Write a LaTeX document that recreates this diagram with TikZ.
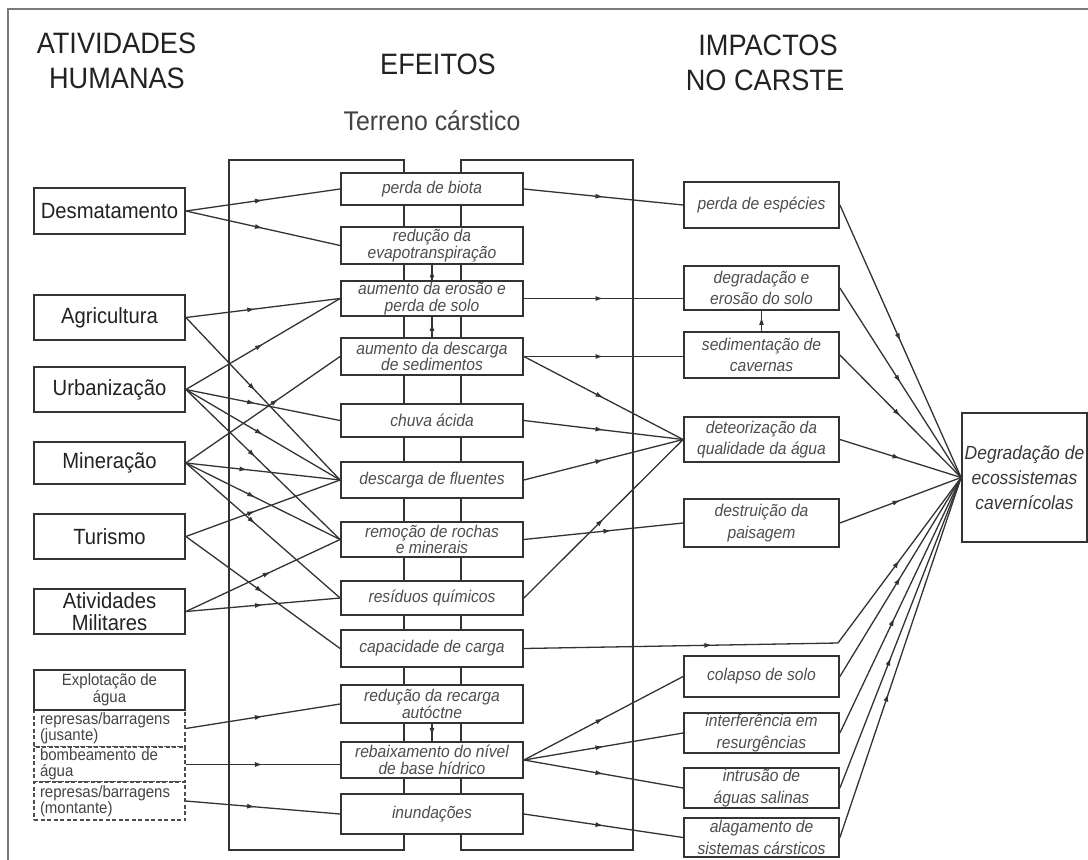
\documentclass[tikz,border=0pt]{standalone}
\usepackage{fontspec}
\setmainfont{Liberation Sans}[FakeStretch=0.92]
\usetikzlibrary{arrows.meta,decorations.markings}
\definecolor{lc}{HTML}{333333}
\definecolor{tc}{HTML}{222222}
\definecolor{ic}{HTML}{4D4D4D}
\definecolor{fc}{HTML}{7A7A7A}
\begin{document}
\begin{tikzpicture}[x=1pt,y=-1pt,
  hd/.style={inner sep=0pt, text=tc, font=\fontsize{29.5}{34}\selectfont},
  subhd/.style={inner sep=0pt, text=tc!85, font=\fontsize{27}{30}\selectfont},
  box/.style={draw=lc, line width=1.8pt, fill=white, inner sep=0pt, align=center},
  act/.style={box, minimum width=151pt, text=tc, font=\fontsize{22}{22}\selectfont},
  wat/.style={box, minimum width=151pt, text=tc!85, font=\fontsize{16.3}{14.5}\selectfont},
  dsh/.style={draw=ic, line width=1.4pt, dash pattern=on 4pt off 2.5pt, fill=white,
     inner ysep=0pt, inner xsep=6pt, text width=139pt, align=left, text=tc!85,
     font=\fontsize{16.3}{16}\selectfont},
  eff/.style={box, minimum width=182pt, text=ic, font=\fontsize{17}{16.5}\selectfont\itshape},
  imp/.style={box, minimum width=155pt, text=ic, font=\fontsize{17}{21.5}\selectfont\itshape},
  fin/.style={box, minimum width=125pt, minimum height=129pt, text=tc!90, font=\fontsize{19}{25}\selectfont\itshape},
  conn/.style={draw=lc, line width=1.3pt, postaction=decorate,
     decoration={markings, mark=at position #1 with {\arrow{Latex[length=8pt,width=5pt]}}}},
  conn/.default=0.5]
\useasboundingbox (0,0) rectangle (1088,860);
\fill[white] (0,0) rectangle (1088,860);
% outer frame
\draw[fc, line width=2.4pt] (8,860) -- (8,9) -- (1088,9);
% headers
\node[hd, anchor=base] (h1) at (116.5,53) {ATIVIDADES};
\node[hd, anchor=base] (h2) at (117,88) {HUMANAS};
\node[hd, anchor=base] (h3) at (438,74) {EFEITOS};
\node[hd, anchor=base] (h4) at (768,55) {IMPACTOS};
\node[hd, anchor=base] (h5) at (765,90) {NO CARSTE};
\node[subhd, anchor=base] (h6) at (432,130) {Terreno cárstico};
% terrain frame
\draw[lc, line width=1.8pt] (229,160) rectangle (404,850);
\draw[lc, line width=1.8pt] (461,160) rectangle (633,850);
% activities
\node[act, minimum height=46pt] (des) at (109.5,211) {Desmatamento};
\node[act, minimum height=45pt] (agr) at (109.5,317.5) {Agricultura};
\node[act, minimum height=45pt] (urb) at (109.5,389.5) {Urbanização};
\node[act, minimum height=42pt] (min) at (109.5,463) {Mineração};
\node[act, minimum height=45pt] (tur) at (109.5,536.5) {Turismo};
\node[act, minimum height=45pt] (mil) at (109.5,611.5) {Atividades\\Militares};
\node[dsh, minimum height=37pt] (jus) at (109.5,728.5) {represas/barragens\\(jusante)};
\node[dsh, minimum height=35pt] (bom) at (109.5,764.5) {bombeamento de\\água};
\node[dsh, minimum height=38pt] (mon) at (109.5,801) {represas/barragens\\(montante)};
\node[wat, minimum height=40pt] (exp) at (109.5,690) {Explotação de\\água};
% effects
\node[eff, minimum height=32pt] (bio) at (432,189) {perda de biota};
\node[eff, minimum height=37pt] (eva) at (432,245.5) {redução da\\evapotranspiração};
\node[eff, minimum height=35pt] (ero) at (432,298.5) {aumento da erosão e\\perda de solo};
\node[eff, minimum height=37pt] (sed) at (432,356.5) {aumento da descarga\\de sedimentos};
\node[eff, minimum height=33pt] (chu) at (432,420.5) {chuva ácida};
\node[eff, minimum height=36pt] (flu) at (432,480) {descarga de fluentes};
\node[eff, minimum height=35pt] (rem) at (432,539.5) {remoção de rochas\\e minerais};
\node[eff, minimum height=34pt] (res) at (432,598) {resíduos químicos};
\node[eff, minimum height=37pt] (cap) at (432,648.5) {capacidade de carga};
\node[eff, minimum height=38pt] (rec) at (432,704) {redução da recarga\\autóctne};
\node[eff, minimum height=36pt] (reb) at (432,760) {rebaixamento do nível\\de base hídrico};
\node[eff, minimum height=40pt] (inu) at (432,814) {inundações};
% impacts
\node[imp, minimum height=46pt] (esp) at (761.5,205) {perda de espécies};
\node[imp, minimum height=44pt] (deg) at (761.5,288) {degradação e\\erosão do solo};
\node[imp, minimum height=46pt] (sdc) at (761.5,355) {sedimentação de\\cavernas};
\node[imp, minimum height=45pt] (det) at (761.5,439.5) {deteorização da\\qualidade da água};
\node[imp, minimum height=48pt] (pai) at (761.5,523) {destruição da\\paisagem};
\node[imp, minimum height=41pt] (col) at (761.5,676.5) {colapso de solo};
\node[imp, minimum height=40pt] (itf) at (761.5,733) {interferência em\\resurgências};
\node[imp, minimum height=40pt] (itr) at (761.5,788) {intrusão de\\águas salinas};
\node[imp, minimum height=39pt] (ala) at (761.5,837.5) {alagamento de\\sistemas cársticos};
% final
\node[fin] (dg) at (1024.5,477.5) {Degradação de\\ecossistemas\\cavernícolas};
\coordinate (cc) at (838,643);
% activities -> effects
\draw[conn] (des.east) -- (bio.west);
\draw[conn] (des.east) -- (eva.west);
\draw[conn=0.45] (agr.east) -- (ero.west);
\draw[conn=0.45] (agr.east) -- (flu.west);
\draw[conn=0.5] (urb.east) -- (ero.west);
\draw[conn=0.45] (urb.east) -- (chu.west);
\draw[conn=0.5] (urb.east) -- (flu.west);
\draw[conn=0.45] (urb.east) -- (rem.west);
\draw[conn=0.6] (min.east) -- (sed.west);
\draw[conn=0.4] (min.east) -- (flu.west);
\draw[conn=0.45] (min.east) -- (rem.west);
\draw[conn=0.45] (min.east) -- (res.west);
\draw[conn=0.45] (tur.east) -- (flu.west);
\draw[conn=0.5] (tur.east) -- (cap.west);
\draw[conn=0.55] (mil.east) -- (rem.west);
\draw[conn=0.5] (mil.east) -- (res.west);
\draw[conn] (jus.east) -- (rec.west);
\draw[conn] (bom.east) -- (bom.east -| reb.west);
\draw[conn=0.45] (mon.east) -- (inu.west);
% between effects
\draw[conn=0.7] (ero.north) -- (eva.south);
\draw[conn=0.7] (sed.north) -- (ero.south);
\draw[conn=0.7] (rec.south) -- (reb.north);
% effects -> impacts
\draw[conn] (bio.east) -- (esp.west);
\draw[conn] (ero.east) -- (ero.east -| deg.west);
\draw[conn] (sed.east) -- (sed.east -| sdc.west);
\draw[conn] (sed.east) -- (det.west);
\draw[conn] (chu.east) -- (det.west);
\draw[conn] (flu.east) -- (det.west);
\draw[conn=0.55] (rem.east) -- (pai.west);
\draw[conn] (res.east) -- (det.west);
\draw[conn] (reb.east) -- (col.west);
\draw[conn] (reb.east) -- (itf.west);
\draw[conn] (reb.east) -- (itr.west);
\draw[conn] (inu.east) -- (ala.west);
\draw[conn=0.7] (sdc.north) -- (deg.south);
% capacity line
\draw[conn=0.6] (cap.east) -- (cc);
\draw[conn] (cc) -- (dg.west);
% impacts -> final
\draw[conn] (esp.east) -- (dg.west);
\draw[conn] (deg.east) -- (dg.west);
\draw[conn] (sdc.east) -- (dg.west);
\draw[conn] (det.east) -- (dg.west);
\draw[conn] (pai.east) -- (dg.west);
\draw[conn] (col.east) -- (dg.west);
\draw[conn=0.45] (itf.east) -- (dg.west);
\draw[conn=0.42] (itr.east) -- (dg.west);
\draw[conn=0.4] (ala.east) -- (dg.west);
\end{tikzpicture}
\end{document}
